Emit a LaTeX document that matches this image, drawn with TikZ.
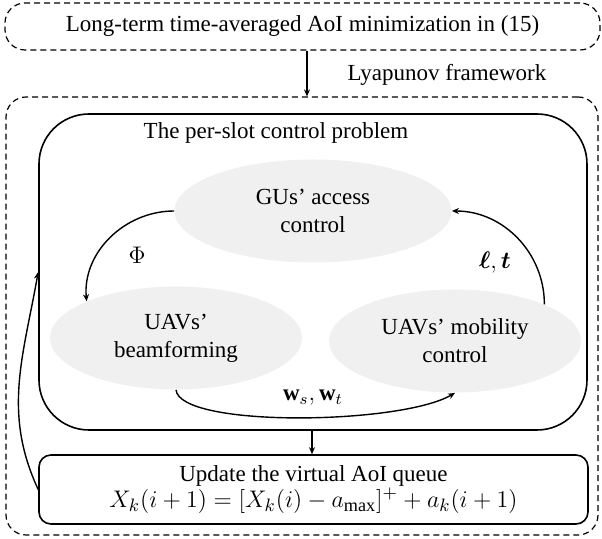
\documentclass[tikz,border=0pt]{standalone}
\usepackage{fontspec}
\usepackage{amsmath,bm}
\setmainfont{Liberation Serif}
\usetikzlibrary{shapes.geometric,arrows.meta}
\begin{document}
\begin{tikzpicture}[x=0.5pt, y=-0.5pt,
    every node/.style={font=\fontsize{11.5}{14}\selectfont},
    dashbox/.style={draw, dash pattern=on 3pt off 2pt, rounded corners=10pt, line width=0.6pt},
    solidbox/.style={draw, line width=0.8pt},
    ellip/.style={ellipse, fill=black!6, align=center, minimum width=126pt, minimum height=51.5pt, inner sep=0pt},
    arr/.style={line width=0.7pt, -{Stealth[length=3.5pt, width=3pt]}}]
    % Fix the page size
    \useasboundingbox (0,0) rectangle (602,539);

    % Outer frames
    \node[dashbox, minimum width=297.5pt, minimum height=23.5pt] (top) at (302.5,26.5) {Long-term time-averaged AoI minimization in (15)};
    \node (lyap) at (447,75) {Lyapunov framework};
    \node[dashbox, minimum width=296pt, minimum height=219pt] (outer) at (302,316) {};
    \node[solidbox, rounded corners=25pt, minimum width=274pt, minimum height=158pt] (inner) at (313,272) {};
    \node (title) at (276,133) {The per-slot control problem};

    % The three sub-problems
    \node[ellip, minimum width=138.5pt] (gus) at (313,211) {GUs’ access\\control};
    \node[ellip] (beam) at (176,338) {UAVs’\\beamforming};
    \node[ellip] (mob) at (455,341) {UAVs’ mobility\\control};

    % Queue update
    \node[solidbox, rounded corners=6pt, minimum width=274.5pt, minimum height=34.5pt, align=center] (queue) at (313.5,489.5)
        {Update the virtual AoI queue\\[-1pt] {\fontsize{13}{15}\selectfont $X_k(i+1)=[X_k(i)-a_{\max}]^{+}+a_k(i+1)$}};

    % Connectors between the blocks
    \draw[arr] (top.south -| 307,0) -- (outer.north -| 307,0);
    \draw[arr] (gus.west) to[out=180, in=95] (beam.north west);
    \node (phi) at (137,255) {$\Phi$};
    \draw[arr] (mob.north east) to[out=90, in=0] (gus.east);
    \node (lt) at (495,263) {$\bm{\ell},\bm{t}$};
    \draw[arr] (beam.south) .. controls +(4,38) and +(-55,32) .. (mob.south);
    \node (w) at (313,398) {$\mathbf{w}_s,\mathbf{w}_t$};
    \draw[arr] (inner.south -| 312,0) -- (queue.north -| 312,0);
    \draw[arr] (queue.west) to[out=115, in=-100] (inner.west);
\end{tikzpicture}
\end{document}
